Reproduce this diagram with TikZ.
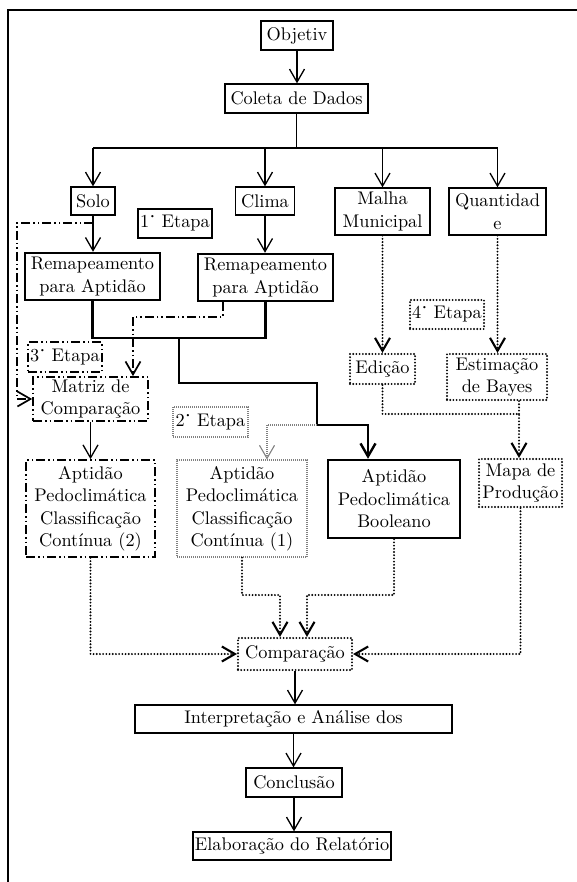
\documentclass[tikz,border=0pt]{standalone}
\usepackage{fontspec}
\setmainfont{lmroman10-regular.otf}
\usetikzlibrary{arrows.meta}
\newcommand{\etp}[1]{#1\raisebox{1.15ex}{\fontsize{8}{8}\selectfont\textbullet}~Etapa}
\tikzset{
  txt/.style={font={\fontsize{18.3}{22.5}\selectfont}, align=center, inner sep=0pt},
  thinbox/.style={txt, draw, line width=1.3pt},
  boldbox/.style={txt, draw, line width=2.4pt},
  dotbox/.style={txt, draw, line width=2.1pt, line cap=round, dash pattern=on 0pt off 3.2pt},
  greybox/.style={txt, draw=gray, line width=1.1pt, dash pattern=on 1pt off 1pt},
  ddbox/.style={txt, draw, line width=1.7pt, dash pattern=on 9pt off 3pt on 1.5pt off 3pt on 1.5pt off 3pt},
  tip/.style={-{Straight Barb[length=13pt,width=15pt]}},
  thinline/.style={line width=1.3pt},
  boldline/.style={line width=2.4pt},
  dotline/.style={line width=2.1pt, line cap=round, dash pattern=on 0pt off 3.2pt},
  greyline/.style={draw=gray, line width=1.1pt, dash pattern=on 1pt off 1pt},
  ddline/.style={line width=1.7pt, dash pattern=on 9pt off 3pt on 1.5pt off 3pt on 1.5pt off 3pt},
}
\begin{document}
\begin{tikzpicture}[x=1pt,y=-1pt]
\useasboundingbox (0,0) rectangle (577,882);
\fill[white] (0,0) rectangle (577,882);
% frame
\coordinate (fr1) at (577,10);
\coordinate (fr2) at (8,10);
\coordinate (fr3) at (8,882);
\draw[thinline] (fr1) -- (fr2) -- (fr3);

% nodes
\node[thinbox, minimum width=72pt, minimum height=29pt] (obj) at (297,35.5) {Objetiv};
\node[thinbox, minimum width=143pt, minimum height=29pt] (coleta) at (296.5,98.5) {Coleta de Dados};
\node[thinbox, minimum width=44pt, minimum height=28pt] (solo) at (93,201) {Solo};
\node[thinbox, minimum width=59pt, minimum height=28pt] (clima) at (265,201) {Clima};
\node[thinbox, minimum width=95pt, minimum height=47pt] (malha) at (382.5,211.5) {Malha\\Municipal};
\node[thinbox, minimum width=97pt, minimum height=47pt] (quant) at (497.5,211.5) {Quantidad\\e};
\node[boldbox, minimum width=74pt, minimum height=29pt] (etapa1) at (175,223.5) {\etp{1}};
\node[boldbox, minimum width=135pt, minimum height=47pt] (remapL) at (92.5,276.5) {Remapeamento\\para Aptidão};
\node[boldbox, minimum width=135pt, minimum height=47pt] (remapR) at (265.5,277.5) {Remapeamento\\para Aptidão};
\node[ddbox, minimum width=74pt, minimum height=30pt] (etapa3) at (65,357) {\etp{3}};
\node[ddbox, minimum width=115pt, minimum height=44pt] (matriz) at (90.5,399) {Matriz de\\Comparação};
\node[dotbox, minimum width=74pt, minimum height=29pt] (etapa4) at (447,314.5) {\etp{4}};
\node[dotbox, minimum width=65pt, minimum height=30pt] (edicao) at (382.5,369) {Edição};
\node[dotbox, minimum width=100pt, minimum height=46pt] (estim) at (497,377) {Estimação\\de Bayes};
\node[greybox, minimum width=75pt, minimum height=30pt] (etapa2) at (210.5,422) {\etp{2}};
\node[ddbox, minimum width=129pt, minimum height=97pt] (cont2) at (90.5,508.5) {Aptidão\\Pedoclimática\\Classificação\\Contínua (2)};
\node[greybox, minimum width=130pt, minimum height=97pt] (cont1) at (242,508.5) {Aptidão\\Pedoclimática\\Classificação\\Contínua (1)};
\node[boldbox, minimum width=132pt, minimum height=78pt] (bool) at (394,499) {Aptidão\\Pedoclimática\\Booleano};
\node[dotbox, minimum width=83pt, minimum height=48pt] (mapa) at (520.5,483) {Mapa de\\Produção};
\node[dotbox, minimum width=114pt, minimum height=32pt] (comp) at (295,654) {Comparação};
\node[thinbox, minimum width=317pt, minimum height=28pt] (interp) at (293.5,719) {Interpretação e Análise dos};
\node[thinbox, minimum width=96pt, minimum height=29pt] (concl) at (294,782.5) {Conclusão};
\node[thinbox, minimum width=198pt, minimum height=28pt] (elab) at (292,846) {Elaboração do Relatório};

% helper coordinates
\coordinate (hb) at (296.5,148);
\coordinate (s1) at (93,223);
\coordinate (dd1) at (17,223);
\coordinate (j1) at (179,338);
\coordinate (j2) at (317,383);
\coordinate (j3) at (317,425);
\coordinate (j4) at (368,425);
\coordinate (g1) at (267,425);
\coordinate (d2a) at (223,317);
\coordinate (d2b) at (133,317);
\coordinate (m1) at (519,414);
\coordinate (c1) at (280,595);
\coordinate (c2) at (307,595);

% top connectors
\draw[thinline, tip] (obj.south) -- (obj.south |- coleta.north);
\draw[thinline] (coleta.south) -- (hb);
\draw[thinline] (solo.north |- hb) -- (quant.north |- hb);
\draw[thinline, tip] (solo.north |- hb) -- (solo.north);
\draw[thinline, tip] (clima.north |- hb) -- (clima.north);
\draw[thinline, tip] (malha.north |- hb) -- (malha.north);
\draw[thinline, tip] (quant.north |- hb) -- (quant.north);
\draw[thinline, tip] (solo.south) -- (solo.south |- remapL.north);
\draw[thinline, tip] (clima.south) -- (clima.south |- remapR.north);

% dash-dot from Solo to Matriz
\draw[ddline, tip] (s1) -- (dd1) |- (matriz.west);
% dash-dot from right remap to Matriz
\draw[ddline, tip] (d2a |- remapR.south) -- (d2a) -- (d2b) -- (d2b |- matriz.north);
% Matriz to Cont2
\draw[thinline, tip] (matriz.south) -- (matriz.south |- cont2.north);

% bold connectors
\draw[boldline] (remapL.south) |- (j1) -| (remapR.south);
\draw[boldline, tip] (j1) -- (j1 |- j2) -- (j2) -- (j3) -- (j4) -- (j4 |- bool.north);
\draw[greyline, tip] (j3) -- (g1) -- (g1 |- cont1.north);

% dotted right side
\draw[dotline, tip] (malha.south) -- (malha.south |- edicao.north);
\draw[dotline, tip] (quant.south) -- (quant.south |- estim.north);
\draw[dotline, tip] (edicao.south) |- (m1) -- (m1 |- mapa.north);
\draw[dotline] (m1 |- estim.south) -- (m1);

% into Comparacao
\draw[dotline, tip] (cont2.south) |- (comp.west);
\draw[dotline, tip] (cont1.south) |- (c1) -- (c1 |- comp.north);
\draw[dotline, tip] (bool.south) |- (c2) -- (c2 |- comp.north);
\draw[dotline, tip] (mapa.south) |- (comp.east);

% bottom chain
\draw[thinline, tip] (comp.south) -- (comp.south |- interp.north);
\draw[thinline, tip] (interp.south) -- (interp.south |- concl.north);
\draw[thinline, tip] (concl.south) -- (concl.south |- elab.north);
\end{tikzpicture}
\end{document}
